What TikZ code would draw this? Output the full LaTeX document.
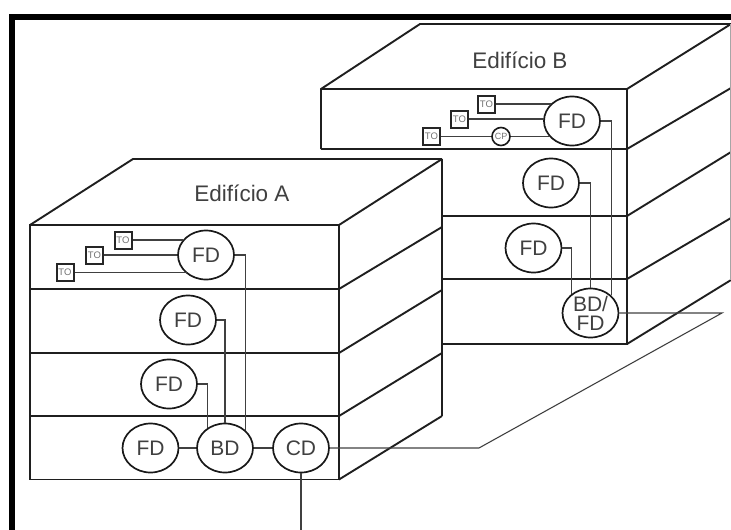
\documentclass[tikz,border=0pt]{standalone}
\usepackage{fontspec}
\setmainfont{Liberation Sans}
\usetikzlibrary{shapes.geometric}
\definecolor{inkgray}{gray}{0.25}
\tikzset{
  wall/.style={line width=1.9pt, black!88},
  link/.style={line width=1.1pt, black!75},
  fdnode/.style={draw=black!90, line width=1.7pt, ellipse, minimum width=56pt, minimum height=49pt,
    inner sep=0pt, text=inkgray, font=\fontsize{21}{19}\selectfont},
  tonode/.style={draw=black!85, line width=2pt, fill=white, minimum size=17pt, inner sep=0pt,
    text=black!55, font=\fontsize{9.5}{9.5}\selectfont},
  cpnode/.style={draw=black!90, line width=1.6pt, circle, minimum size=18pt, inner sep=0pt,
    text=black!55, font=\fontsize{9}{9}\selectfont},
  title/.style={text=inkgray, font=\fontsize{22.5}{22.5}\selectfont}
}
\begin{document}
\begin{tikzpicture}[x=1pt, y=-1pt]
  \useasboundingbox (0,0) rectangle (731,530);
  % Frame
  \fill[black] (9,14) rectangle (731,20);
  \fill[black] (9,14) rectangle (15,530);

  % Building B
  \begin{scope}
    \draw[wall] (321,149) -- (321,89) -- (420,24) -- (731,24);
    \draw[wall] (321,89) -- (627,89) -- (627,344) -- (442,344);
    \draw[wall] (321,149) -- (627,149);
    \foreach \yf in {216,279} \draw[wall] (442,\yf) -- (627,\yf);
    \draw[wall] (627,89) -- (731,24);
    \draw[wall] (627,149) -- (731,88);
    \draw[wall] (627,216) -- (731,152);
    \draw[wall] (627,279) -- (731,218);
    \draw[wall] (627,344) -- (731,280);
    \draw[line width=0.6pt, black!35] (730,24) -- (730,280);
    \node[title] (titleB) at (520,60) {Edifício B};

    \node[fdnode] (fdBone) at (572,121) {FD};
    \node[fdnode] (fdBtwo) at (551,183) {FD};
    \node[fdnode] (fdBthree) at (533.5,248) {FD};
    \node[fdnode, inner sep=-3pt, align=center] (bdfd) at (590.5,313) {BD/\\FD};
    \node[tonode] (toBone) at (486.5,104) {TO};
    \node[tonode] (toBtwo) at (459.5,119) {TO};
    \node[tonode] (toBthree) at (431.5,136.5) {TO};
    \node[cpnode] (cp) at (501,136.5) {CP};

    \draw[link] (toBone.east) -- (toBone.east -| fdBone.141);
    \draw[link] (toBtwo.east) -- (toBtwo.east -| fdBone.172);
    \draw[link] (toBthree.east) -- (cp.west);
    \draw[link] (cp.east) -- (cp.east -| fdBone.216);
    \draw[link] (fdBone.east) -| (bdfd.40);
    \draw[link] (fdBtwo.east) -| (bdfd.north);
    \draw[link] (fdBthree.east) -| (bdfd.135);
  \end{scope}

  % Building A
  \begin{scope}
    \draw[wall] (30,225) -- (133,159) -- (442,159);
    \draw[wall] (30,225) rectangle (339,479.5);
    \foreach \yf in {289,353,416} \draw[wall] (30,\yf) -- (339,\yf);
    \draw[wall] (442,159) -- (442,416);
    \draw[wall] (339,225) -- (442,159);
    \draw[wall] (339,289) -- (442,227);
    \draw[wall] (339,353) -- (442,290);
    \draw[wall] (339,416) -- (442,353);
    \draw[wall] (339,479.5) -- (442,416);
    \node[title] (titleA) at (242,193) {Edifício A};

    \node[fdnode] (fdAone) at (206,255) {FD};
    \node[fdnode] (fdAtwo) at (188,320) {FD};
    \node[fdnode] (fdAthree) at (169,384) {FD};
    \node[fdnode] (fdAfour) at (150.5,448) {FD};
    \node[fdnode] (bd) at (225,448) {BD};
    \node[fdnode] (cd) at (301,448) {CD};
    \node[tonode] (toAone) at (123,240) {TO};
    \node[tonode] (toAtwo) at (94.5,255) {TO};
    \node[tonode] (toAthree) at (65,272.5) {TO};

    \draw[link] (toAone.east) -- (toAone.east -| fdAone.145);
    \draw[link] (toAtwo.east) -- (fdAone.west);
    \draw[link] (toAthree.east) -- (toAthree.east -| fdAone.224);
    \draw[link] (fdAone.east) -| (bd.41);
    \draw[link] (fdAtwo.east) -| (bd.north);
    \draw[link] (fdAthree.east) -| (bd.131);
    \draw[link] (fdAfour) -- (bd);
    \draw[link] (bd) -- (cd);
  \end{scope}

  % Backbone cables
  \coordinate (bend) at (479,448);
  \coordinate (corner) at (722,313);
  \coordinate (cableend) at (301,530);
  \draw[link] (cd.east) -- (bend) -- (corner) -- (bdfd.east);
  \draw[link] (cd.south) -- (cableend);
\end{tikzpicture}
\end{document}
